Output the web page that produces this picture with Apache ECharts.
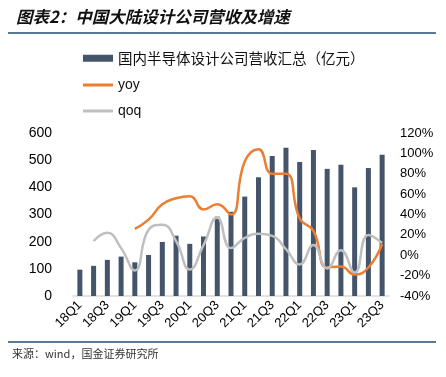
<!DOCTYPE html>
<html>
<head>
<meta charset="utf-8">
<script src="https://cdn.jsdelivr.net/npm/echarts@6/dist/echarts.min.js"></script>
<style>
  html, body { margin: 0; padding: 0; background: #fff; }
  #chart { width: 446px; height: 377px; }
</style>
</head>
<body>
<div id="chart"></div>
<script>
const quarters = [
  '18Q1', '18Q2', '18Q3', '18Q4', '19Q1', '19Q2', '19Q3', '19Q4',
  '20Q1', '20Q2', '20Q3', '20Q4', '21Q1', '21Q2', '21Q3', '21Q4',
  '22Q1', '22Q2', '22Q3', '22Q4', '23Q1', '23Q2', '23Q3',
];
// 营收（亿元）
const revenue = [
  97, 111, 133, 145, 124, 151, 199, 222,
  192, 219, 292, 310, 366, 437, 515, 546,
  493, 537, 468, 483, 400, 471, 520,
];
// 同比 %
const yoy = [
  null, null, null, null, 26, 35, 50, 56,
  58, 45, 50, 40, 92, 104, 80, 80,
  36, 24, -12, -11, -19, -12, 11,
];
// 环比 %
const qoq = [
  null, 14, 22, 7, -15, 25, 30, 14,
  -14, 10, 37, 7, 17, 21, 19, 6,
  -9, 10, -13, 5, -17, 20, 12,
];

const barName = '国内半导体设计公司营收汇总（亿元）';
const font = 'Arial, "Liberation Sans", "Noto Sans CJK SC", sans-serif';
const cjk = '"Noto Sans CJK SC", sans-serif';

const chart = echarts.init(document.getElementById('chart'));

chart.setOption({
  animation: false,
  textStyle: { fontFamily: font },
  title: {
    text: '图表2：中国大陆设计公司营收及增速',
    left: 11,
    top: 3,
    textStyle: {
      fontFamily: cjk,
      fontSize: 16.5,
      fontWeight: 'bold',
      fontStyle: 'italic',
      color: '#111',
    },
  },
  graphic: [
    {
      type: 'line',
      shape: { x1: 8, y1: 33, x2: 436, y2: 33 },
      style: { stroke: '#1F4E79', lineWidth: 1.5 },
    },
    {
      type: 'line',
      shape: { x1: 8, y1: 342, x2: 436, y2: 342 },
      style: { stroke: '#1F4E79', lineWidth: 1.5 },
    },
    {
      type: 'text',
      left: 12,
      top: 348,
      style: {
        text: '来源：wind，国金证券研究所',
        font: '11px "Noto Sans CJK SC", sans-serif',
        fill: '#333',
      },
    },
  ],
  legend: [
    {
      data: [barName],
      left: 78,
      top: 46,
      itemWidth: 30,
      itemHeight: 7,
      icon: 'rect',
      textStyle: { fontFamily: cjk, fontSize: 14.5, color: '#111' },
    },
    {
      data: ['yoy', 'qoq'],
      orient: 'vertical',
      left: 78,
      top: 73,
      itemGap: 12,
      itemWidth: 30,
      itemHeight: 3,
      icon: 'rect',
      textStyle: { fontSize: 14, color: '#111' },
    },
  ],
  grid: {
    left: 73,
    right: 57,
    top: 133,
    bottom: 81,
  },
  xAxis: {
    type: 'category',
    data: quarters,
    axisTick: { show: false },
    axisLine: { lineStyle: { color: '#D9D9D9', width: 1.5 } },
    axisLabel: {
      interval: 1,
      rotate: 45,
      fontSize: 13,
      color: '#000',
      margin: 7,
    },
  },
  yAxis: [
    {
      type: 'value',
      min: 0,
      max: 600,
      interval: 100,
      splitLine: { show: false },
      axisLine: { show: false },
      axisTick: { show: false },
      axisLabel: { fontSize: 14, color: '#000', margin: 21 },
    },
    {
      type: 'value',
      min: -40,
      max: 120,
      interval: 20,
      splitLine: { show: false },
      axisLine: { show: false },
      axisTick: { show: false },
      axisLabel: {
        fontSize: 13,
        color: '#000',
        margin: 11,
        formatter: '{value}%',
      },
    },
  ],
  series: [
    {
      name: barName,
      type: 'bar',
      data: revenue,
      barWidth: 5,
      itemStyle: { color: '#44546A' },
    },
    {
      name: 'yoy',
      type: 'line',
      yAxisIndex: 1,
      data: yoy,
      smooth: 0.5,
      showSymbol: false,
      symbol: 'none',
      lineStyle: { color: '#ED7D31', width: 2.5 },
      itemStyle: { color: '#ED7D31' },
    },
    {
      name: 'qoq',
      type: 'line',
      yAxisIndex: 1,
      data: qoq,
      smooth: 0.5,
      showSymbol: false,
      symbol: 'none',
      lineStyle: { color: '#BFBFBF', width: 2.5 },
      itemStyle: { color: '#BFBFBF' },
    },
  ],
});
</script>
</body>
</html>
